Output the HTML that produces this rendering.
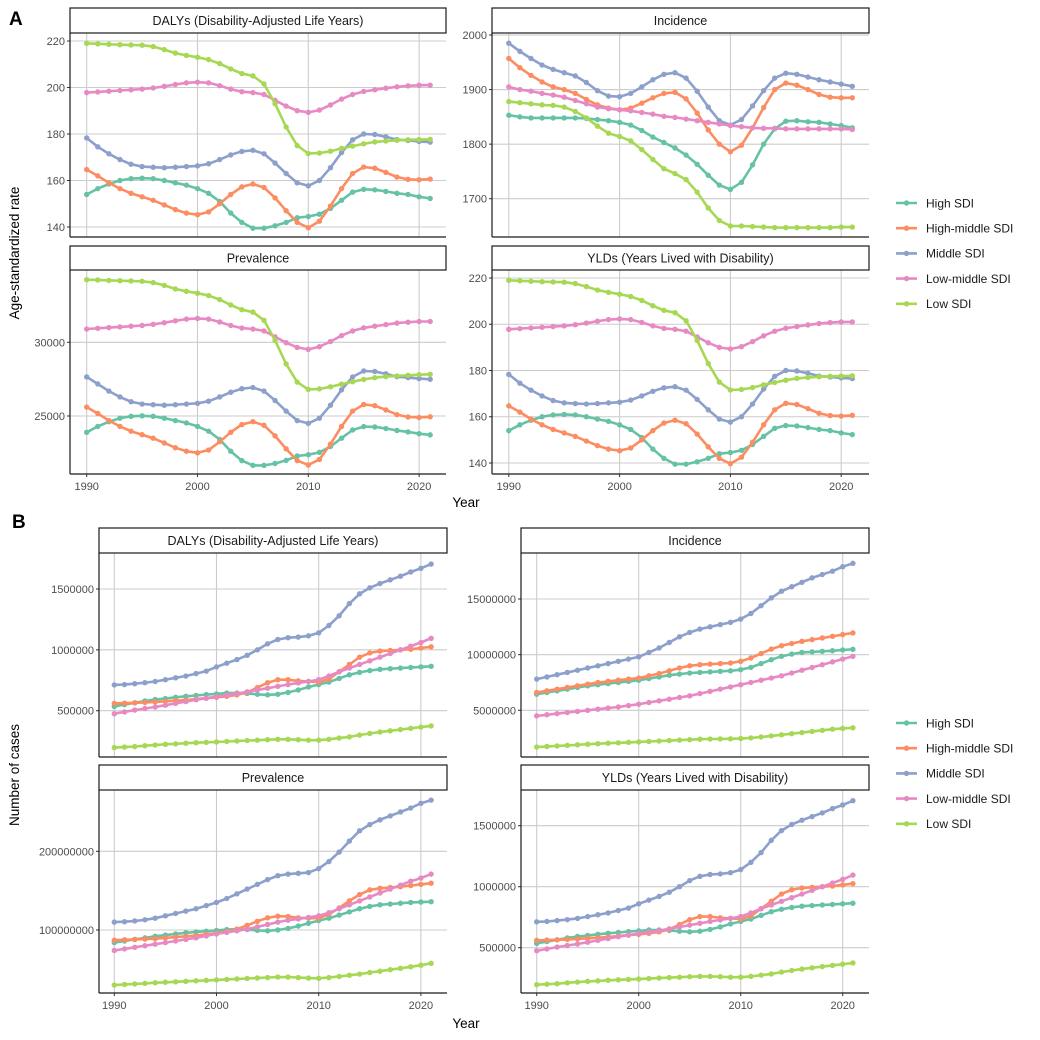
<!DOCTYPE html>
<html><head><meta charset="utf-8"><style>
html,body{margin:0;padding:0;background:#fff;}
svg{display:block;font-family:"Liberation Sans",Arial,sans-serif;}
</style></head><body>
<svg id="chart" width="1040" height="1040" viewBox="0 0 1040 1040" xmlns="http://www.w3.org/2000/svg">
<rect x="0" y="0" width="1040" height="1040" fill="#fff"/>
<text x="9" y="25" font-size="19" font-weight="bold">A</text>
<text x="12" y="528" font-size="19" font-weight="bold">B</text>
<text transform="translate(19,253) rotate(-90)" text-anchor="middle" font-size="13.5">Age-standardized rate</text>
<text transform="translate(19,775) rotate(-90)" text-anchor="middle" font-size="13.5">Number of cases</text>
<text x="466" y="507" text-anchor="middle" font-size="13.5">Year</text>
<text x="466" y="1028" text-anchor="middle" font-size="13.5">Year</text>
</svg>
<script>
const years = [1990,1991,1992,1993,1994,1995,1996,1997,1998,1999,2000,2001,2002,2003,2004,2005,2006,2007,2008,2009,2010,2011,2012,2013,2014,2015,2016,2017,2018,2019,2020,2021];
const seriesNames = ["High SDI","High-middle SDI","Middle SDI","Low-middle SDI","Low SDI"];
const xTickYears = [1990,2000,2010,2020];

// A: age-standardized DALYs (same as YLDs)
const aDalyHigh = [154,156.5,158.5,160,160.8,161,160.8,160,159,158,156.5,154.5,151,146,142,139.5,139.5,140.5,142,144,144.5,145.5,148,151.5,155,156.2,156,155.3,154.5,154,153,152.3];
const aDalyHighMid = [164.7,162,159,156.5,154.5,153,151.5,149.5,147.5,146,145.3,146.5,150,154,157.3,158.5,157,152.5,147,142,139.7,142.5,149,156.5,163,165.8,165.3,163.5,161.5,160.5,160.3,160.6];
const aDalyMid = [178.3,174.5,171.5,169,167,166,165.7,165.5,165.7,166,166.3,167.2,169,171,172.5,173,171.5,167.5,163,159,157.7,160,165.5,172,177.5,180,179.8,178.8,177.6,177.2,176.8,176.5];
const aDalyLowMid = [197.8,198.1,198.4,198.7,199,199.3,199.8,200.5,201.3,202,202.3,202,200.8,199.3,198.2,197.8,197,194.5,192,190,189.3,190.3,192.5,195,197,198.3,199,199.7,200.3,200.7,201,201];
const aDalyLow = [219,218.8,218.6,218.4,218.3,218.2,217.6,216.3,214.8,213.8,213,212,210.3,208,206,205,201.5,193,183,175,171.6,171.8,172.6,173.8,174.8,175.8,176.6,177,177.3,177.5,177.6,177.7];
const aDalyTicks = [140,160,180,200,220];

// A: incidence rate
const aIncHigh = [1853,1850,1848,1848,1848,1848,1848,1847,1845,1843,1840,1835,1825,1813,1803,1793,1780,1763,1743,1725,1717,1730,1762,1800,1828,1842,1843,1841,1840,1837,1834,1830];
const aIncHighMid = [1957,1940,1926,1914,1905,1900,1893,1882,1872,1866,1863,1866,1875,1885,1893,1895,1883,1857,1826,1800,1786,1798,1830,1867,1900,1912,1908,1900,1891,1886,1885,1885];
const aIncMid = [1985,1970,1957,1945,1937,1931,1925,1913,1898,1888,1887,1893,1905,1918,1928,1931,1921,1897,1868,1843,1835,1845,1870,1898,1921,1930,1928,1923,1918,1914,1910,1906];
const aIncLowMid = [1905,1900,1897,1893,1890,1886,1880,1874,1868,1865,1863,1861,1858,1855,1851,1849,1846,1843,1840,1837,1834,1832,1830,1829,1829,1828,1828,1828,1828,1828,1828,1827];
const aIncLow = [1878,1876,1874,1872,1871,1868,1860,1848,1833,1820,1814,1806,1790,1772,1755,1746,1735,1712,1683,1660,1650,1650,1649,1648,1647,1647,1647,1647,1647,1647,1648,1648];
const aIncTicks = [1700,1800,1900,2000];

// A: prevalence rate
const aPrevHigh = [23892,24292,24612,24852,24980,25012,24980,24852,24692,24532,24292,23972,23412,22612,21972,21650,21650,21780,21990,22292,22372,22532,22932,23492,24052,24280,24260,24150,24020,23920,23800,23720];
const aPrevHighMid = [25604,25172,24692,24292,23972,23732,23492,23172,22852,22612,22500,22692,23252,23892,24420,24612,24372,23652,22772,21972,21680,22052,23092,24292,25332,25780,25700,25412,25092,24932,24900,24948];
const aPrevMid = [27650,27172,26692,26292,25972,25812,25764,25732,25764,25812,25860,26004,26292,26612,26852,26932,26692,26052,25332,24692,24500,24852,25732,26772,27652,28052,28020,27860,27668,27604,27540,27492];
const aPrevLowMid = [30900,30948,30996,31044,31092,31140,31220,31332,31460,31572,31620,31572,31380,31140,30964,30900,30772,30372,29972,29652,29520,29700,30052,30452,30772,30980,31092,31204,31300,31364,31412,31412];
const aPrevLow = [34250,34230,34200,34180,34160,34140,34050,33860,33620,33460,33330,33172,32900,32532,32212,32052,31492,30132,28532,27300,26800,26840,26980,27160,27330,27480,27600,27670,27720,27760,27800,27830];
const aPrevTicks = [25000,30000];

// B: DALY cases (same as YLDs)
const bDalyHigh = [535000,550000,565000,580000,592000,600000,610000,618000,625000,632000,638000,645000,645000,642000,635000,630000,635000,650000,670000,695000,715000,735000,765000,795000,815000,830000,840000,845000,850000,855000,860000,865000];
const bDalyHighMid = [560000,562000,565000,568000,572000,577000,582000,588000,595000,603000,610000,618000,630000,650000,690000,730000,755000,755000,745000,740000,735000,760000,820000,880000,940000,975000,990000,995000,1000000,1005000,1015000,1025000];
const bDalyMid = [712000,715000,722000,730000,740000,755000,770000,785000,805000,825000,860000,890000,920000,955000,1000000,1050000,1085000,1100000,1105000,1115000,1140000,1200000,1280000,1380000,1460000,1510000,1545000,1575000,1605000,1640000,1670000,1705000];
const bDalyLowMid = [475000,490000,505000,518000,530000,545000,560000,575000,590000,603000,615000,628000,640000,655000,670000,685000,700000,715000,728000,740000,755000,785000,820000,850000,880000,910000,940000,970000,1000000,1030000,1060000,1095000];
const bDalyLow = [197000,201000,205000,212000,218000,224000,228000,233000,237000,240000,243000,247000,251000,255000,258000,262000,265000,265000,262000,258000,258000,265000,275000,285000,300000,313000,325000,335000,345000,355000,365000,375000];
const bDalyTicks = [500000,1000000,1500000];

// B: incidence cases
const bIncHigh = [6450000,6600000,6750000,6900000,7050000,7200000,7300000,7400000,7500000,7600000,7700000,7850000,8000000,8150000,8250000,8350000,8400000,8450000,8500000,8550000,8650000,8850000,9200000,9550000,9850000,10050000,10200000,10250000,10300000,10350000,10420000,10480000];
const bIncHighMid = [6600000,6750000,6900000,7050000,7200000,7350000,7500000,7600000,7700000,7800000,7900000,8100000,8300000,8550000,8800000,9000000,9100000,9150000,9200000,9250000,9400000,9700000,10100000,10500000,10800000,11000000,11200000,11350000,11500000,11650000,11800000,11950000];
const bIncMid = [7800000,8000000,8200000,8400000,8600000,8800000,9000000,9200000,9400000,9600000,9800000,10200000,10600000,11100000,11600000,12000000,12300000,12500000,12700000,12900000,13200000,13700000,14400000,15100000,15700000,16100000,16500000,16900000,17200000,17500000,17900000,18200000];
const bIncLowMid = [4500000,4600000,4700000,4800000,4900000,5000000,5100000,5200000,5300000,5420000,5550000,5700000,5850000,6000000,6150000,6300000,6500000,6700000,6900000,7100000,7300000,7500000,7700000,7900000,8100000,8350000,8600000,8850000,9100000,9350000,9600000,9850000];
const bIncLow = [1700000,1750000,1800000,1850000,1900000,1950000,2000000,2040000,2080000,2120000,2160000,2200000,2240000,2280000,2320000,2360000,2400000,2420000,2430000,2440000,2460000,2520000,2600000,2700000,2800000,2900000,3000000,3100000,3200000,3300000,3370000,3430000];
const bIncTicks = [5000000,10000000,15000000];

// B: prevalence cases
const bPrevHigh = [84e6,86e6,88e6,90e6,92e6,93.5e6,95e6,96.5e6,97.5e6,98.5e6,99.5e6,100.5e6,101e6,100.5e6,99.5e6,99e6,100e6,102e6,105e6,108.5e6,112e6,115e6,119e6,123e6,127e6,130e6,132e6,133e6,134e6,135e6,135.5e6,136e6];
const bPrevHighMid = [87e6,87.5e6,88e6,88.5e6,89e6,90e6,91e6,92e6,93e6,94.5e6,96e6,98e6,101e6,106e6,111e6,115.5e6,117.5e6,117e6,115.5e6,115e6,115e6,120e6,128e6,137e6,145e6,151e6,153e6,154e6,155e6,156.5e6,158e6,159.5e6];
const bPrevMid = [110e6,110.5e6,111.5e6,113e6,115e6,118e6,121e6,124e6,127e6,131e6,135e6,140e6,146e6,152e6,158e6,164e6,169e6,171e6,172e6,173e6,178e6,187e6,199e6,213e6,226e6,234e6,240e6,245e6,250e6,255e6,261e6,265e6];
const bPrevLowMid = [74e6,76e6,78e6,80e6,82e6,84e6,86e6,88e6,90e6,92.5e6,95e6,97e6,99e6,101e6,104e6,107e6,110e6,112.5e6,114e6,116e6,118e6,122e6,127e6,132e6,137e6,142e6,147e6,152e6,157e6,162e6,166e6,171e6];
const bPrevLow = [30e6,30.8e6,31.5e6,32.2e6,33e6,33.6e6,34.2e6,34.8e6,35.4e6,36e6,36.6e6,37.2e6,37.8e6,38.4e6,39e6,39.6e6,40.2e6,40.2e6,39.6e6,38.9e6,38.6e6,39.6e6,41e6,42.5e6,44e6,46e6,47.7e6,49.5e6,51.3e6,53.2e6,55.3e6,57.7e6];
const bPrevTicks = [100000000,200000000];

const colors = ["#66C2A5","#FC8D62","#8DA0CB","#E78AC3","#A6D854"];
const NS = "http://www.w3.org/2000/svg";
const svg = document.getElementById("chart");

function mk(tag, attrs, parent) {
  const e = document.createElementNS(NS, tag);
  for (const k in attrs) e.setAttribute(k, attrs[k]);
  (parent || svg).appendChild(e);
  return e;
}

// panel layout: pixel frame + value range (yTop value at plotTop, yBot value at plotBot)
function drawPanel(p) {
  const g = mk("g", {});
  
  
  const W = p.x1 - p.x0;
  const xScale = yr => p.xStart + (yr - 1990) * p.xStep;
  const yScale = v => p.plotTop + (p.vTop - v) / (p.vTop - p.vBot) * (p.plotBot - p.plotTop);
  // gridlines
  xTickYears.forEach(yr => {
    const l = mk("line", {x1: xScale(yr), x2: xScale(yr), y1: p.plotTop, y2: p.plotBot, stroke: "#cccccc", "stroke-width": 1.1}, g);
    
    
  });
  p.ticks.forEach(v => {
    const y = yScale(v);
    const l = mk("line", {x1: p.x0, x2: p.x1, y1: y, y2: y, stroke: "#cccccc", "stroke-width": 1.1}, g);
    
    
    const t = mk("line", {x1: p.x0 - 3, x2: p.x0, y1: y, y2: y, stroke: "#333", "stroke-width": 1}, g);
    
    
    const tx = mk("text", {x: p.x0 - 5, y: y + 4, "text-anchor": "end", "font-size": 11, fill: "#4d4d4d"}, g);
    tx.textContent = String(v);
    
    
  });
  // series
  p.series.forEach((arr, si) => {
    const pts = arr.map((v, i) => xScale(years[i]).toFixed(1) + "," + yScale(v).toFixed(1)).join(" ");
    const pl = mk("polyline", {points: pts, fill: "none", stroke: colors[si], "stroke-width": 2.6, "stroke-linejoin": "round"}, g);
    
    
    arr.forEach((v, i) => {
      const c = mk("circle", {cx: xScale(years[i]), cy: yScale(v), r: 2.7, fill: colors[si]}, g);
      
      
    });
  });
  // axes
  const ax = mk("line", {x1: p.x0, x2: p.x0, y1: p.plotTop, y2: p.plotBot, stroke: "#1a1a1a", "stroke-width": 1.2}, g);
  
  
  const bx = mk("line", {x1: p.x0, x2: p.x1, y1: p.plotBot, y2: p.plotBot, stroke: "#1a1a1a", "stroke-width": 1.2}, g);
  
  
  if (p.xLabels) {
    xTickYears.forEach(yr => {
      const t = mk("line", {x1: xScale(yr), x2: xScale(yr), y1: p.plotBot, y2: p.plotBot + 3, stroke: "#333", "stroke-width": 1}, g);
      
      
      const tx = mk("text", {x: xScale(yr), y: p.plotBot + 16, "text-anchor": "middle", "font-size": 11, fill: "#4d4d4d"}, g);
      tx.textContent = String(yr);
      
      
    });
  }
  // strip
  const sr = mk("rect", {x: p.x0, y: p.stripTop, width: W, height: p.plotTop - p.stripTop, fill: "#fff", stroke: "#1a1a1a", "stroke-width": 1.2}, g);
  
  
  const st = mk("text", {x: p.x0 + W / 2, y: (p.stripTop + p.plotTop) / 2 + 4.5, "text-anchor": "middle", "font-size": 12.5, fill: "#1a1a1a"}, g);
  st.textContent = p.title;
  
  
}

const daly = "DALYs (Disability-Adjusted Life Years)";
const ylds = "YLDs (Years Lived with Disability)";
// A row 1
drawPanel({name: "panel-a-dalys", title: daly, x0: 70, x1: 446, stripTop: 8, plotTop: 33, plotBot: 237, xStart: 86.7, xStep: 11.08, vTop: 223.44, vBot: 135.7, ticks: aDalyTicks, xLabels: false, series: [aDalyHigh, aDalyHighMid, aDalyMid, aDalyLowMid, aDalyLow]});
drawPanel({name: "panel-a-incidence", title: "Incidence", x0: 492, x1: 869, stripTop: 8, plotTop: 33, plotBot: 237, xStart: 508.8, xStep: 11.08, vTop: 2003.7, vBot: 1629.8, ticks: aIncTicks, xLabels: false, series: [aIncHigh, aIncHighMid, aIncMid, aIncLowMid, aIncLow]});
drawPanel({name: "panel-a-prevalence", title: "Prevalence", x0: 70, x1: 446, stripTop: 246, plotTop: 270, plotBot: 474, xStart: 86.7, xStep: 11.08, vTop: 34905, vBot: 21065, ticks: aPrevTicks, xLabels: true, series: [aPrevHigh, aPrevHighMid, aPrevMid, aPrevLowMid, aPrevLow]});
drawPanel({name: "panel-a-ylds", title: ylds, x0: 492, x1: 869, stripTop: 246, plotTop: 270, plotBot: 474, xStart: 508.8, xStep: 11.08, vTop: 223.46, vBot: 135.24, ticks: aDalyTicks, xLabels: true, series: [aDalyHigh, aDalyHighMid, aDalyMid, aDalyLowMid, aDalyLow]});
// B
drawPanel({name: "panel-b-dalys", title: daly, x0: 99, x1: 447, stripTop: 528, plotTop: 553, plotBot: 757, xStart: 114.3, xStep: 10.22, vTop: 1795800, vBot: 119560, ticks: bDalyTicks, xLabels: false, series: [bDalyHigh, bDalyHighMid, bDalyMid, bDalyLowMid, bDalyLow]});
drawPanel({name: "panel-b-incidence", title: "Incidence", x0: 521, x1: 869, stripTop: 528, plotTop: 553, plotBot: 757, xStart: 536.7, xStep: 10.2, vTop: 19133000, vBot: 804000, ticks: bIncTicks, xLabels: false, series: [bIncHigh, bIncHighMid, bIncMid, bIncLowMid, bIncLow]});
drawPanel({name: "panel-b-prevalence", title: "Prevalence", x0: 99, x1: 447, stripTop: 765, plotTop: 790, plotBot: 993, xStart: 114.3, xStep: 10.22, vTop: 277900000, vBot: 19950000, ticks: bPrevTicks, xLabels: true, series: [bPrevHigh, bPrevHighMid, bPrevMid, bPrevLowMid, bPrevLow]});
drawPanel({name: "panel-b-ylds", title: ylds, x0: 521, x1: 869, stripTop: 765, plotTop: 790, plotBot: 993, xStart: 536.7, xStep: 10.2, vTop: 1792600, vBot: 128700, ticks: bDalyTicks, xLabels: true, series: [bDalyHigh, bDalyHighMid, bDalyMid, bDalyLowMid, bDalyLow]});

// legends
function drawLegend(top, name) {
  const g = mk("g", {});
  
  
  seriesNames.forEach((s, i) => {
    const y = top + i * 25.2;
    const l = mk("line", {x1: 896, x2: 917, y1: y, y2: y, stroke: colors[i], "stroke-width": 2.6}, g);
    
    
    const c = mk("circle", {cx: 906.5, cy: y, r: 2.7, fill: colors[i]}, g);
    
    
    const t = mk("text", {x: 926, y: y + 4.3, "font-size": 12, fill: "#1a1a1a"}, g);
    t.textContent = s;
    
    
  });
}
drawLegend(203, "legend-a");
drawLegend(723, "legend-b");
</script>
</body></html>
